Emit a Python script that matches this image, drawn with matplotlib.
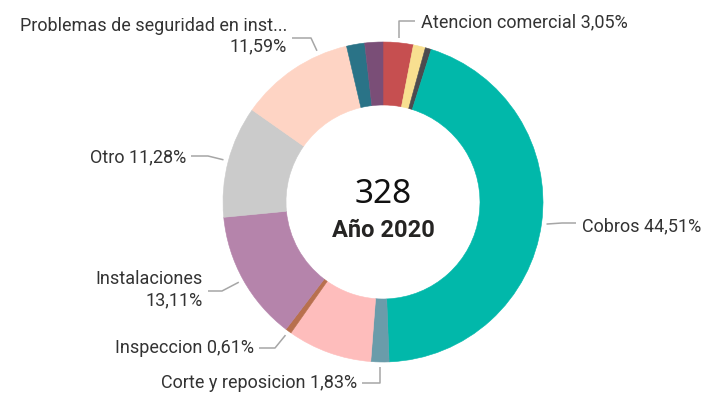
#!/usr/bin/env python3

import matplotlib.pyplot as plt
import numpy as np

# ======================================================================
# Data: reclamos por tipo, año 2020.
# ======================================================================

categories = [
    'Atencion comercial', 'Consultas', 'Facturacion', 'Cobros',
    'Corte y reposicion', 'Reclamos', 'Inspeccion', 'Instalaciones',
    'Otro', 'Problemas de seguridad en inst...', 'Medidores', 'Alumbrado',
]
counts = [10, 4, 2, 146, 6, 28, 2, 43, 37, 38, 6, 6]
colors = [
    '#C64F50', '#F8DF90', '#4C4B4F', '#01B8AA',
    '#6A9CAA', '#FEBDBC', '#B8704E', '#B584AB',
    '#CBCBCB', '#FED4C4', '#2A7387', '#7A4E77',
]
total = sum(counts)
year_label = 'Año 2020'

# ======================================================================
# Layout (pixel units, y measured from the top).
# ======================================================================

W, H = 710, 393
CX, CY = 383, 202
R_OUT, WIDTH = 160, 63
R_LEAD = 165

# text x, baseline(s), alignment, leader y, elbow x, anchor fraction
label_layout = {
    'Atencion comercial': (421, [27], 'left', 21, None, 0.5),
    'Cobros': (582, [231], 'left', 223, 562, 0.5),
    'Corte y reposicion': (357, [388], 'right', 383, None, 0.5),
    'Inspeccion': (254, [353], 'right', 348, 275, 0.5),
    'Instalaciones': (203, [284, 305], 'right', 291, 222, 0.5),
    'Otro': (186, [162], 'right', 156, 208, 0.5),
    'Problemas de seguridad en inst...': (287, [31, 51], 'right', 38, 311, 0.75),
}


def fy(y):
    return H - y


def fmt_pct(v):
    return ('%.2f%%' % v).replace('.', ',')


fig = plt.figure(figsize=(W / 100, H / 100), dpi=100)
ax = fig.add_axes([0, 0, 1, 1])

ax.pie(
    counts,
    colors=colors,
    startangle=90,
    counterclock=False,
    radius=R_OUT,
    center=(CX, fy(CY)),
    wedgeprops=dict(width=WIDTH, linewidth=0.4, antialiased=True),
)
for w, c in zip(ax.patches, colors):
    w.set_edgecolor(c)
ax.set_xlim(0, W)
ax.set_ylim(0, H)
ax.set_aspect('auto')
ax.axis('off')

# ======================================================================
# Labels with leader lines.
# ======================================================================

starts = np.concatenate([[0], np.cumsum(counts)[:-1]])
lab_font = dict(family='Roboto', fontsize=13, color='#333333')

for name, start, n in zip(categories, starts, counts):
    if name not in label_layout:
        continue
    tx, baselines, ha, ly, ex, frac = label_layout[name]
    theta = np.deg2rad(360. * (start + frac * n) / total)
    axp = CX + R_LEAD * np.sin(theta)
    ayp = CY - R_LEAD * np.cos(theta)
    end_x = tx - 6 if ha == 'left' else tx + 5
    if ex is None:
        ex = axp
    ax.plot(
        [axp, ex, end_x], [fy(ayp), fy(ly), fy(ly)],
        color='#A6A6A6', lw=1.1, solid_capstyle='butt',
    )
    pct = fmt_pct(100. * n / total)
    if len(baselines) == 1:
        lines = ['%s %s' % (name, pct)]
    else:
        lines = [name, pct]
    for txt, by in zip(lines, baselines):
        ax.text(tx, fy(by), txt, ha=ha, va='baseline', **lab_font)

# ======================================================================
# Centre text.
# ======================================================================

ax.text(CX, fy(203), str(total), ha='center', va='baseline',
        family='Noto Sans', fontsize=24, color='#111111')
ax.text(CX, fy(237), year_label, ha='center', va='baseline',
        family='Roboto', fontsize=17, fontweight='bold', color='#252423')

fig.savefig('out.png', dpi=100)
plt.close()
